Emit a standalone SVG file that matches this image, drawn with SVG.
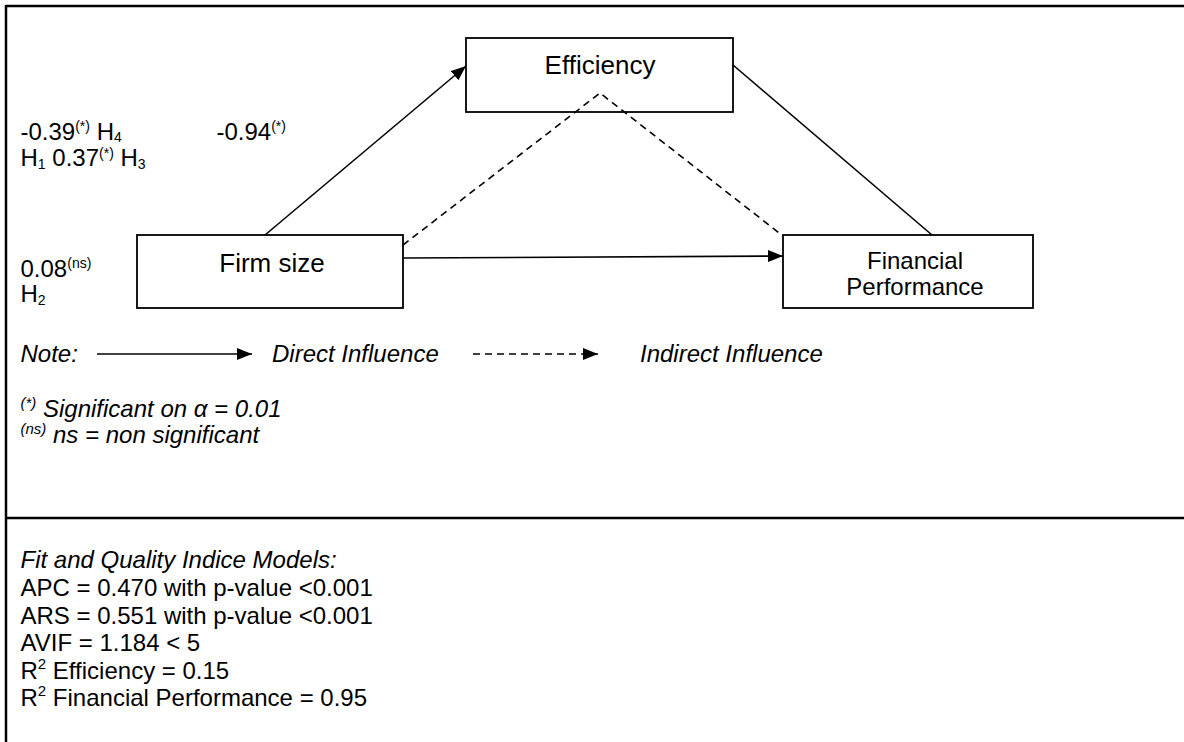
<svg xmlns="http://www.w3.org/2000/svg" width="1184" height="742" viewBox="0 0 1184 742">
<style>
text{font-family:"Liberation Sans",Arial,sans-serif;fill:#000}
.box{fill:#fff;stroke:#000;stroke-width:1.8}
.frame{stroke:#000;stroke-width:2.5;fill:none}
.conn{stroke:#000;stroke-width:1.6;fill:none}
.dash{stroke:#000;stroke-width:1.6;fill:none;stroke-dasharray:7 5}
.lbl{font-size:24px}
.note{font-size:24px;font-style:italic}
.body{font-size:24px}
.sm{font-size:14px}
</style>
<defs>
<marker id="ah" markerUnits="userSpaceOnUse" markerWidth="15" markerHeight="12" refX="15" refY="6" orient="auto">
<path d="M0,0 L15,6 L0,12 z" fill="#000"/>
</marker>
</defs>
<rect width="1184" height="742" fill="#fff"/>
<g id="frame">
<line class="frame" x1="6" y1="6" x2="1184" y2="6"/>
<line class="frame" x1="6" y1="5" x2="6" y2="742"/>
<line class="frame" x1="6" y1="518" x2="1184" y2="518"/>
</g>
<g id="node-efficiency">
<rect class="box" x="466" y="38" width="267" height="74"/>
<text x="600" y="74" font-size="26" text-anchor="middle">Efficiency</text>
</g>
<g id="node-firmsize">
<rect class="box" x="137" y="235" width="266" height="73"/>
<text x="272" y="272" font-size="26" text-anchor="middle">Firm size</text>
</g>
<g id="node-financial">
<rect class="box" x="783" y="235" width="250" height="73"/>
<text x="915" y="269" font-size="24" text-anchor="middle">Financial</text>
<text x="915" y="295" font-size="24" text-anchor="middle">Performance</text>
</g>
<g id="connectors">
<line class="conn" x1="265" y1="235" x2="466" y2="66" marker-end="url(#ah)"/>
<line class="conn" x1="733" y1="65" x2="932" y2="235"/>
<line class="conn" x1="403" y1="258" x2="783" y2="256" marker-end="url(#ah)"/>
<polyline class="dash" points="403,245 600,93 783,236"/>
</g>
<g id="labels">
<text class="lbl" x="20.5" y="140">-0.39<tspan class="sm" dy="-9">(*)</tspan><tspan dy="9"> H</tspan><tspan class="sm" dy="2">4</tspan></text>
<text class="lbl" x="20.5" y="166">H<tspan class="sm" dy="3">1</tspan><tspan dy="-3"> 0.37</tspan><tspan class="sm" dy="-8">(*)</tspan><tspan dy="8"> H</tspan><tspan class="sm" dy="3">3</tspan></text>
<text class="lbl" x="216.5" y="140">-0.94<tspan class="sm" dy="-9">(*)</tspan></text>
<text class="lbl" x="20.5" y="277">0.08<tspan class="sm" dy="-9">(ns)</tspan></text>
<text class="lbl" x="20.5" y="302">H<tspan class="sm" dy="3">2</tspan></text>
</g>
<g id="legend">
<text class="note" x="20.5" y="362">Note:</text>
<line class="conn" x1="97" y1="354" x2="252" y2="354" marker-end="url(#ah)"/>
<text class="note" x="272" y="362">Direct Influence</text>
<line class="dash" x1="473" y1="354" x2="598" y2="354" marker-end="url(#ah)"/>
<text class="note" x="640" y="362">Indirect Influence</text>
<text class="note" x="20.5" y="417"><tspan font-size="15" dy="-9">(*)</tspan><tspan dy="9"> Significant on α = 0.01</tspan></text>
<text class="note" x="20.5" y="443"><tspan font-size="15" dy="-9">(ns)</tspan><tspan dy="9"> ns = non significant</tspan></text>
</g>
<g id="fit-indices">
<text class="note" x="20.5" y="568">Fit and Quality Indice Models:</text>
<text class="body" x="20.5" y="596">APC = 0.470 with p-value &lt;0.001</text>
<text class="body" x="20.5" y="624">ARS = 0.551 with p-value &lt;0.001</text>
<text class="body" x="20.5" y="651">AVIF = 1.184 &lt; 5</text>
<text class="body" x="20.5" y="679">R<tspan font-size="15" dy="-10">2</tspan><tspan dy="10"> Efficiency = 0.15</tspan></text>
<text class="body" x="20.5" y="706">R<tspan font-size="15" dy="-10">2</tspan><tspan dy="10"> Financial Performance = 0.95</tspan></text>
</g>
</svg>
